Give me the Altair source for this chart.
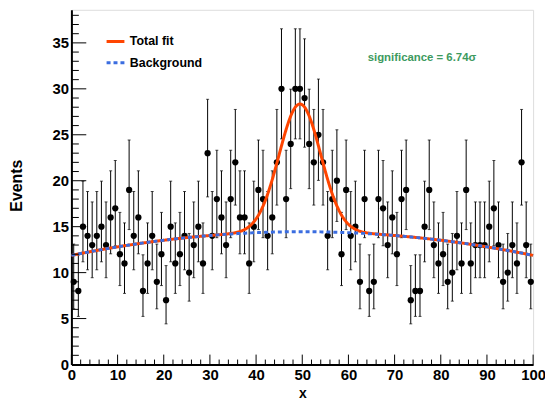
import altair as alt
import pandas as pd
import numpy as np

# ---------------- data ----------------
counts = [
    9, 8, 15, 14, 13, 14, 15, 13, 16, 17,
    12, 11, 19, 14, 16, 8, 11, 14, 9, 12,
    7, 15, 11, 12, 14, 10, 13, 15, 11, 23,
    14, 18, 16, 13, 18, 22, 16, 16, 11, 15,
    19, 18, 14, 16, 22, 30, 18, 24, 30, 30,
    29, 24, 22, 25, 22, 14, 18, 20, 12, 19,
    14, 15, 9, 18, 8, 9, 18, 17, 13, 16,
    12, 18, 19, 7, 8, 8, 15, 19, 13, 11,
    12, 9, 10, 14, 11, 19, 11, 13, 13, 13,
    15, 17, 13, 9, 10, 13, 11, 22, 13, 9,
]
bin_centers = [i + 0.5 for i in range(100)]

# fit parameters (quadratic background + gaussian signal)
bg_params = [14.45, 0.00103, 50.0]      # level at x0, curvature, x0
sig_params = [13.9, 49.5, 4.5]          # amplitude, mean, sigma

series = ["Total fit", "Background"]
series_colors = ["#ff4500", "#3b6de0"]
series_dash = [[1, 0], [4, 3]]
significance_label = "significance = 6.74\u03c3"

x_major = list(range(0, 101, 10))
x_minor = [v for v in range(0, 101, 2) if v % 10]
y_major = list(range(0, 36, 5))
y_minor = [v for v in range(0, 39) if v % 5]

FONT = "Liberation Sans"
W, H = 466, 358

# ---------------- derived tables ----------------
def poisson_interval(n):
    # Garwood 68% interval, Wilson-Hilferty approximation
    n = float(n)
    lo = n * (1 - 1 / (9 * n) - 1 / (3 * np.sqrt(n))) ** 3 if n > 0 else 0.0
    m = n + 1
    hi = m * (1 - 1 / (9 * m) + 1 / (3 * np.sqrt(m))) ** 3
    return lo, hi

lo_hi = [poisson_interval(n) for n in counts]
pts = pd.DataFrame({
    "x": bin_centers,
    "n": counts,
    "lo": [a for a, b in lo_hi],
    "hi": [b for a, b in lo_hi],
})

xs = np.linspace(0, 100, 401)
bg = bg_params[0] - bg_params[1] * (xs - bg_params[2]) ** 2
sig = sig_params[0] * np.exp(-0.5 * ((xs - sig_params[1]) / sig_params[2]) ** 2)
curves = pd.concat([
    pd.DataFrame({"x": xs, "y": bg + sig, "series": series[0]}),
    pd.DataFrame({"x": xs, "y": bg, "series": series[1]}),
])

xscale = alt.Scale(domain=[0, 100], nice=False, zero=False)
yscale = alt.Scale(domain=[0, 38.6], nice=False, zero=False)

xaxis = alt.Axis(
    values=x_major, title="x", ticks=False, grid=False, labelFlush=False,
    domainColor="black", domainWidth=2, labelFont=FONT, labelFontSize=15,
    labelFontWeight="bold", labelColor="black", labelPadding=3.5,
    titleFont=FONT, titleFontSize=14, titleFontWeight="bold", titleColor="black",
    titleY=33, titleBaseline="alphabetic",
)
yaxis = alt.Axis(
    values=y_major, title="Events", ticks=False, grid=False,
    domainColor="black", domainWidth=2, labelFont=FONT, labelFontSize=15,
    labelFontWeight="bold", labelColor="black", labelPadding=3,
    titleFont=FONT, titleFontSize=16, titleFontWeight="bold", titleColor="black",
    titleAngle=270, titleX=-55, titleY=177, titleAlign="center", titleBaseline="middle",
)

X = lambda f: alt.X(f"{f}:Q", scale=xscale, axis=xaxis)
Y = lambda f: alt.Y(f"{f}:Q", scale=yscale, axis=yaxis)

errbars = alt.Chart(pts).mark_rule(color="black", strokeWidth=1).encode(
    x=X("x"), y=Y("lo"), y2="hi:Q")
cap_lo = alt.Chart(pts).mark_tick(orient="horizontal", size=3, thickness=1, color="black").encode(
    x=X("x"), y=Y("lo"))
cap_hi = alt.Chart(pts).mark_tick(orient="horizontal", size=3, thickness=1, color="black").encode(
    x=X("x"), y=Y("hi"))
points = alt.Chart(pts).mark_circle(size=40, color="black", opacity=1).encode(
    x=X("x"), y=Y("n"))

color_enc = alt.Color(
    "series:N",
    scale=alt.Scale(domain=series, range=series_colors),
    legend=alt.Legend(
        orient="none", legendX=34, legendY=21.5, title=None,
        symbolType="stroke", symbolSize=324, symbolStrokeWidth=3,
        labelFont=FONT, labelFontSize=12.5, labelFontWeight="bold", labelColor="black",
        labelOffset=4, rowPadding=4.5, padding=0,
    ),
)
dash_enc = alt.StrokeDash(
    "series:N", scale=alt.Scale(domain=series, range=series_dash), legend=None)

total_line = alt.Chart(curves).transform_filter(
    alt.datum.series == series[0]).mark_line(strokeWidth=3).encode(
    x=X("x"), y=Y("y"), color=color_enc, strokeDash=dash_enc)
bg_line = alt.Chart(curves).transform_filter(
    alt.datum.series == series[1]).mark_line(strokeWidth=3).encode(
    x=X("x"), y=Y("y"), color=color_enc, strokeDash=dash_enc)

tick_df = lambda vals: pd.DataFrame({"v": vals})
xmaj = alt.Chart(tick_df(x_major)).mark_rule(color="black", strokeWidth=1).encode(
    x=X("v"), y=alt.value(H), y2=alt.value(H - 10))
xmin = alt.Chart(tick_df(x_minor)).mark_rule(color="black", strokeWidth=1).encode(
    x=X("v"), y=alt.value(H), y2=alt.value(H - 5))
ymaj = alt.Chart(tick_df(y_major)).mark_rule(color="black", strokeWidth=1).encode(
    y=Y("v"), x=alt.value(0), x2=alt.value(15))
ymin = alt.Chart(tick_df(y_minor)).mark_rule(color="black", strokeWidth=1).encode(
    y=Y("v"), x=alt.value(0), x2=alt.value(7.5))

sig_text = alt.Chart(pd.DataFrame({"t": [significance_label]})).mark_text(
    align="left", baseline="middle", font=FONT, fontSize=11.5, fontWeight="bold",
    color="#3d9a60").encode(text="t:N", x=alt.value(299), y=alt.value(49))

chart = alt.layer(
    errbars, cap_lo, cap_hi, points, total_line, bg_line,
    xmaj, xmin, ymaj, ymin, sig_text,
).properties(
    width=W, height=H,
    autosize=alt.AutoSizeParams(type="none"),
    padding={"left": 64, "top": 0, "right": 12, "bottom": 34},
).configure_view(
    stroke="#666666", strokeWidth=1.5
).configure(font=FONT, background="white")

chart.save("out.html", embed_options={"renderer": "svg", "actions": False})
